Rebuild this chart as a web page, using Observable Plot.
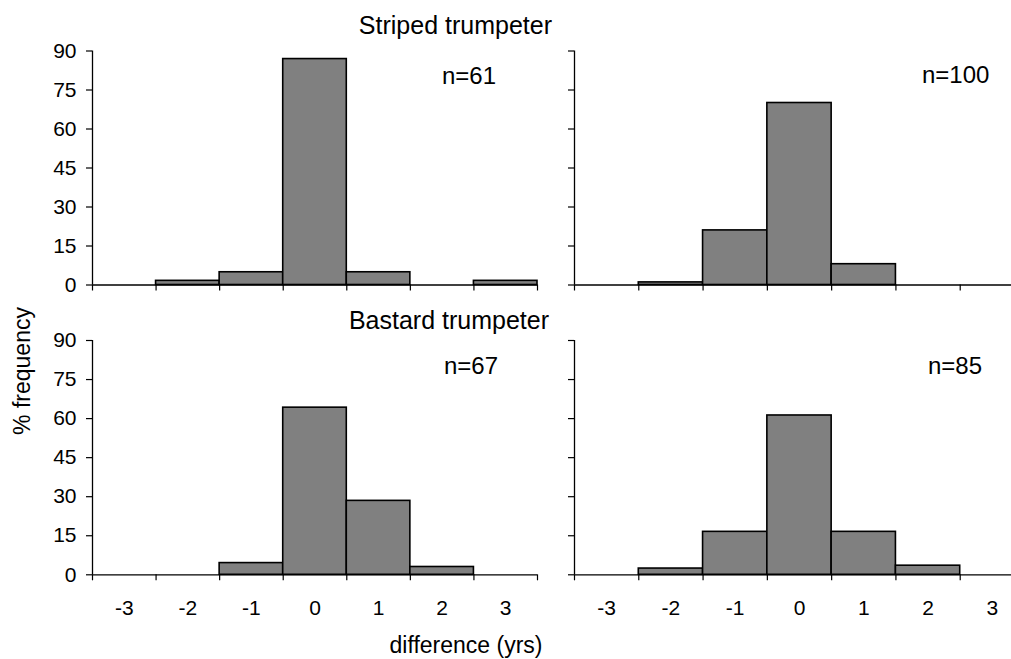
<!DOCTYPE html>
<html>
<head>
<meta charset="utf-8">
<script src="https://cdn.jsdelivr.net/npm/d3@7"></script>
<script src="https://cdn.jsdelivr.net/npm/@observablehq/plot@0.6"></script>
<style>
html, body { margin: 0; padding: 0; background: #fff; overflow: hidden; }
#chart { position: relative; width: 1011px; height: 659px; overflow: hidden; background: #fff;
  font-family: "Liberation Sans", Arial, sans-serif; }
#chart svg { position: absolute; left: 0; top: 0; }
#chart svg text.tick { font-size: 21px !important; }
</style>
</head>
<body>
<div id="chart"></div>
<script>
// ---- data (percent frequency per difference bin, years) ----
const bins = [-3, -2, -1, 0, 1, 2, 3];
const stripedLeft  = [0, 1.6, 4.9, 86.9, 4.9, 0, 1.6];   // n=61
const stripedRight = [0, 1.0, 21.0, 70.0, 8.0, 0, 0];    // n=100
const bastardLeft  = [0, 0, 4.5, 64.2, 28.4, 3.0, 0];    // n=67
const bastardRight = [0, 2.4, 16.5, 61.2, 16.5, 3.5, 0]; // n=85
const nLabels = ["n=61", "n=100", "n=67", "n=85"];
const speciesTitles = ["Striped trumpeter", "Bastard trumpeter"];
const yTicks = [0, 15, 30, 45, 60, 75, 90];
const xTickLabels = [-3, -2, -1, 0, 1, 2, 3];
const yLabel = "% frequency";
const xLabel = "difference (yrs)";

const FONT = '"Liberation Sans", Arial, sans-serif';
const H = 659;
const edges = bins.map(b => b - 0.5).concat([bins[bins.length - 1] + 0.5]);

const panels = [
  {values: stripedLeft,  left: 92,  right: 537,  top: 50.5, bottom: 284.5, yLab: true,  xLab: false},
  {values: stripedRight, left: 574, right: 1024, top: 50.5, bottom: 284.5, yLab: false, xLab: false},
  {values: bastardLeft,  left: 92,  right: 537,  top: 340,  bottom: 574.3, yLab: true,  xLab: true},
  {values: bastardRight, left: 574, right: 1024, top: 340,  bottom: 574.3, yLab: false, xLab: true}
];

const chart = document.getElementById("chart");

for (const p of panels) {
  const W = p.right > 1011 ? 1040 : 1011;
  const data = bins.map((b, i) => ({bin: b, pct: p.values[i]})).filter(d => d.pct > 0);
  const marks = [
    Plot.rect(data, {
      x1: d => d.bin - 0.5, x2: d => d.bin + 0.5, y1: 0, y2: "pct",
      fill: "#808080", stroke: "#000", strokeWidth: 1.6
    }),
    Plot.ruleY([0], {stroke: "#000", strokeWidth: 1.3}),
    Plot.ruleX([edges[0]], {y1: 0, y2: 90, stroke: "#000", strokeWidth: 1.3}),
    Plot.axisY(yTicks, {
      tickSize: 6, tickPadding: 10, label: null, color: "#000",
      fontSize: 21, strokeWidth: 1.2,
      tickFormat: p.yLab ? (d => String(d)) : (() => "")
    }),
    Plot.axisX(edges, {
      tickSize: 6, label: null, color: "#000", strokeWidth: 1.2,
      tickFormat: () => ""
    })
  ];
  if (p.xLab) {
    marks.push(Plot.axisX(xTickLabels, {
      tickSize: 0, tickPadding: 25, label: null, color: "#000",
      fontSize: 21, tickFormat: d => String(d)
    }));
  }
  const svg = Plot.plot({
    width: W, height: H,
    marginLeft: p.left, marginRight: W - p.right,
    marginTop: p.top, marginBottom: H - p.bottom,
    x: {domain: [edges[0], edges[edges.length - 1]]},
    y: {domain: [0, 90]},
    style: {background: "none", maxWidth: "none", fontFamily: FONT,
            color: "#000", overflow: "visible"},
    marks
  });
  svg.style.position = "absolute";
  svg.style.left = "0px";
  svg.style.top = "0px";
  svg.setAttribute("font-size", "21");
  svg.style.fontSize = "21px";
  svg.querySelectorAll("g[font-size]").forEach(g => g.setAttribute("font-size", "21"));
  svg.querySelectorAll("text").forEach(t => {
    t.classList.add("tick");
    t.setAttribute("font-size", "21");
    t.style.fontSize = "21px";
    t.style.fontFamily = FONT;
  });
  chart.appendChild(svg);
}

// ---- text overlay ----
const ov = d3.select(chart).append("svg")
  .attr("width", 1011).attr("height", H)
  .style("position", "absolute").style("left", "0px").style("top", "0px")
  .style("font-family", FONT).style("pointer-events", "none");

const texts = [
  {t: speciesTitles[0], x: 552, y: 34, size: 25, anchor: "end"},
  {t: speciesTitles[1], x: 549, y: 329, size: 25, anchor: "end"},
  {t: nLabels[0], x: 442, y: 84, size: 24, anchor: "start"},
  {t: nLabels[1], x: 922, y: 83, size: 24, anchor: "start"},
  {t: nLabels[2], x: 444, y: 374, size: 24, anchor: "start"},
  {t: nLabels[3], x: 928, y: 374, size: 24, anchor: "start"},
  {t: xLabel, x: 466, y: 653, size: 23, anchor: "middle"}
];
for (const d of texts) {
  ov.append("text").attr("x", d.x).attr("y", d.y)
    .attr("font-size", d.size).attr("text-anchor", d.anchor).attr("fill", "#000").text(d.t);
}
ov.append("text")
  .attr("transform", "translate(29.5,371) rotate(-90)")
  .attr("text-anchor", "middle").attr("font-size", 23).attr("fill", "#000")
  .text(yLabel);
</script>
</body>
</html>
